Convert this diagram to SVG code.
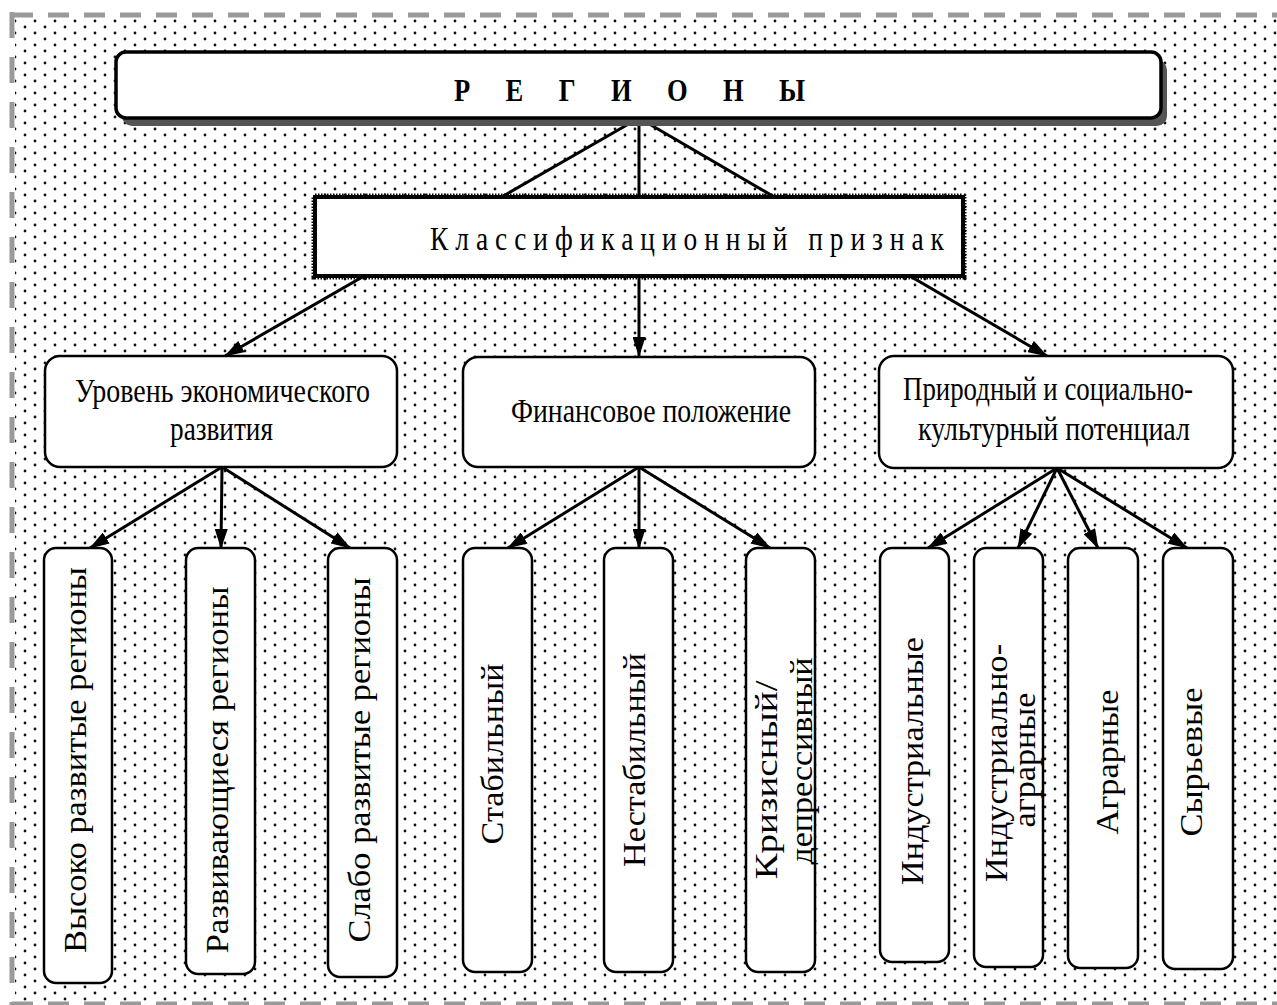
<svg xmlns="http://www.w3.org/2000/svg" width="1277" height="1005" viewBox="0 0 1277 1005">
<style>
.t{font-family:"Liberation Serif","Times New Roman",serif;fill:#000}
.h{font-size:33px}
.v{font-size:32px}
.box{fill:#fff;stroke:#000;stroke-width:2.5}
.con{fill:none;stroke:#000;stroke-width:3;marker-end:url(#arr)}
.brd{fill:none;stroke:#9a9a9a;stroke-width:5}
</style>
<defs>
<pattern id="dots" x="0" y="0" width="20" height="12" patternUnits="userSpaceOnUse">
<circle cx="5" cy="3" r="1.4" fill="#111"/>
<circle cx="15" cy="9" r="1.4" fill="#111"/>
</pattern>
<marker id="arr" viewBox="0 0 20 13" refX="19" refY="6.5" markerWidth="20" markerHeight="13" markerUnits="userSpaceOnUse" orient="auto">
<path d="M0,0 L20,6.5 L0,13 z" fill="#000"/>
</marker>
</defs>
<rect x="0" y="0" width="1277" height="1005" fill="#fff"/>
<rect x="15" y="18" width="1262" height="984" fill="url(#dots)"/>
<g id="border">
<line class="brd" x1="12" y1="15" x2="1277" y2="15" stroke-dasharray="21 15"/>
<line class="brd" x1="12" y1="12" x2="12" y2="1005" stroke-dasharray="26 19"/>
<line class="brd" x1="12" y1="1004" x2="1277" y2="1004" stroke-dasharray="21 15"/>
</g>
<g id="connectors">
<path class="con" d="M639,118 L225,356"/>
<path class="con" d="M639,118 L639,356"/>
<path class="con" d="M639,118 L1047,356"/>
<path class="con" d="M222,467 L90,548"/>
<path class="con" d="M222,467 L221,548"/>
<path class="con" d="M222,467 L350,548"/>
<path class="con" d="M639,467 L508,548"/>
<path class="con" d="M639,467 L639,548"/>
<path class="con" d="M639,467 L770,548"/>
<path class="con" d="M1057,468 L928,548"/>
<path class="con" d="M1057,468 L1018,548"/>
<path class="con" d="M1057,468 L1098,548"/>
<path class="con" d="M1057,468 L1187,548"/>
</g>
<g id="regions">
<rect x="122" y="60" width="1045" height="66" rx="10" fill="#555"/>
<rect x="116" y="52" width="1045" height="66" rx="10" fill="#fff" stroke="#000" stroke-width="3.5"/>
<text class="t" font-size="32" font-weight="bold" transform="translate(629.5,100.5) scale(0.83,1)" text-anchor="middle" textLength="423" lengthAdjust="spacing">Р Е Г И О Н Ы</text>
</g>
<g id="classification">
<rect x="315" y="197" width="648" height="79" fill="#fff" stroke="#000" stroke-width="7" stroke-dasharray="1.5 1.5"/>
<rect x="315" y="197" width="648" height="79" fill="#fff" stroke="#000" stroke-width="4"/>
<text class="t h" transform="translate(687,250) scale(0.83,1)" text-anchor="middle" textLength="619" lengthAdjust="spacing">Классификационный признак</text>
</g>
<g id="economic">
<rect class="box" x="45" y="356" width="352" height="111" rx="15"/>
<text class="t h" x="222.5" y="402" text-anchor="middle" textLength="295" lengthAdjust="spacingAndGlyphs">Уровень экономического</text>
<text class="t h" x="221.5" y="440" text-anchor="middle" textLength="103" lengthAdjust="spacingAndGlyphs">развития</text>
</g>
<g id="financial">
<rect class="box" x="463" y="357" width="352" height="110" rx="15"/>
<text class="t h" x="651" y="422" text-anchor="middle" textLength="280" lengthAdjust="spacingAndGlyphs">Финансовое положение</text>
</g>
<g id="natural">
<rect class="box" x="879" y="356" width="354" height="112" rx="15"/>
<text class="t h" x="1048" y="400" text-anchor="middle" textLength="290" lengthAdjust="spacingAndGlyphs">Природный и социально-</text>
<text class="t h" x="1054" y="440" text-anchor="middle" textLength="272" lengthAdjust="spacingAndGlyphs">культурный потенциал</text>
</g>
<g id="high">
<rect class="box" x="44" y="548" width="68" height="435" rx="12"/>
<text class="t v" transform="translate(86,760) rotate(-90)" text-anchor="middle" textLength="386" lengthAdjust="spacingAndGlyphs">Высоко развитые регионы</text>
</g>
<g id="developing">
<rect class="box" x="186" y="548" width="69" height="426" rx="12"/>
<text class="t v" transform="translate(228,770) rotate(-90)" text-anchor="middle" textLength="367" lengthAdjust="spacingAndGlyphs">Развивающиеся регионы</text>
</g>
<g id="weak">
<rect class="box" x="328" y="548" width="69" height="429" rx="12"/>
<text class="t v" transform="translate(370,760) rotate(-90)" text-anchor="middle" textLength="365" lengthAdjust="spacingAndGlyphs">Слабо развитые регионы</text>
</g>
<g id="stable">
<rect class="box" x="463" y="548" width="69" height="424" rx="12"/>
<text class="t v" transform="translate(503,754) rotate(-90)" text-anchor="middle" textLength="181" lengthAdjust="spacingAndGlyphs">Стабильный</text>
</g>
<g id="unstable">
<rect class="box" x="604" y="548" width="69" height="424" rx="12"/>
<text class="t v" transform="translate(645,760) rotate(-90)" text-anchor="middle" textLength="214" lengthAdjust="spacingAndGlyphs">Нестабильный</text>
</g>
<g id="crisis">
<rect class="box" x="746" y="548" width="69" height="424" rx="12"/>
<text class="t v" transform="translate(777,780) rotate(-90)" text-anchor="middle" textLength="199" lengthAdjust="spacingAndGlyphs">Кризисный/</text>
<text class="t v" transform="translate(812,761) rotate(-90)" text-anchor="middle" textLength="207" lengthAdjust="spacingAndGlyphs">депрессивный</text>
</g>
<g id="industrial">
<rect class="box" x="880" y="548" width="69" height="414" rx="12"/>
<text class="t v" transform="translate(923,761) rotate(-90)" text-anchor="middle" textLength="248" lengthAdjust="spacingAndGlyphs">Индустриальные</text>
</g>
<g id="industrial-agrarian">
<rect class="box" x="974" y="548" width="69" height="419" rx="12"/>
<text class="t v" transform="translate(1007,763) rotate(-90)" text-anchor="middle" textLength="238" lengthAdjust="spacingAndGlyphs">Индустриально-</text>
<text class="t v" transform="translate(1035,760) rotate(-90)" text-anchor="middle" textLength="135" lengthAdjust="spacingAndGlyphs">аграрные</text>
</g>
<g id="agrarian">
<rect class="box" x="1068" y="548" width="70" height="420" rx="12"/>
<text class="t v" transform="translate(1118,762) rotate(-90)" text-anchor="middle" textLength="145" lengthAdjust="spacingAndGlyphs">Аграрные</text>
</g>
<g id="raw">
<rect class="box" x="1163" y="548" width="70" height="421" rx="12"/>
<text class="t v" transform="translate(1202,762) rotate(-90)" text-anchor="middle" textLength="149" lengthAdjust="spacingAndGlyphs">Сырьевые</text>
</g>
</svg>
